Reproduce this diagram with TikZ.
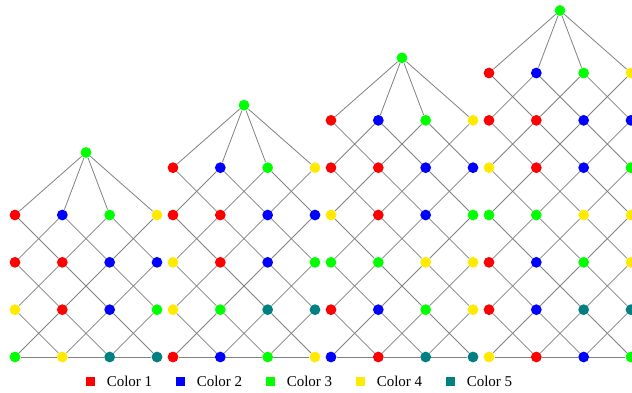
\documentclass[tikz,border=0pt]{standalone}
\usepackage{fontspec}
\setmainfont{Liberation Serif}
\usetikzlibrary{positioning,backgrounds}

\definecolor{col1}{RGB}{255,0,0}
\definecolor{col2}{RGB}{0,0,255}
\definecolor{col3}{RGB}{0,255,0}
\definecolor{col4}{RGB}{255,234,0}
\definecolor{col5}{RGB}{0,128,128}

\tikzset{
  vert/.style={circle,inner sep=0pt,minimum size=5.4pt},
  link/.style={draw=black!50,line width=0.4pt},
  key/.style={rectangle,inner sep=0pt,minimum size=4.5pt},
  keytext/.style={inner sep=0pt,font=\fontsize{7.5}{9}\selectfont}
}

\begin{document}
\begin{tikzpicture}[x=0.5pt,y=0.5pt]
  \useasboundingbox (0,0) rectangle (632,392);
  % top vertices
  \foreach \g/\n in {1/4,2/5,3/6,4/7}
    \node[vert,fill=col3] (g\g-t) at ({86+(\g-1)*158},{35+(\n-1)*47.33+62.5}) {};
  % graph/rows/row/colours of the four columns
  \foreach \g/\n/\k/\ca/\cb/\cc/\cd in {
    1/4/1/1/2/3/4, 1/4/2/1/1/2/2, 1/4/3/4/1/2/3, 1/4/4/3/4/5/5,
    2/5/1/1/2/3/4, 2/5/2/1/1/2/2, 2/5/3/4/1/2/3, 2/5/4/4/3/5/5, 2/5/5/1/2/3/4,
    3/6/1/1/2/3/4, 3/6/2/1/1/2/2, 3/6/3/4/1/2/3, 3/6/4/3/3/4/4, 3/6/5/1/2/3/4,
    3/6/6/2/1/5/5,
    4/7/1/1/2/3/4, 4/7/2/1/1/2/2, 4/7/3/4/1/2/3, 4/7/4/3/3/4/4, 4/7/5/1/2/3/4,
    4/7/6/1/2/5/5, 4/7/7/4/1/2/3}
  {
    \foreach \cl [count=\i from 0] in {\ca,\cb,\cc,\cd}
      \node[vert,fill=col\cl] (g\g-\k-\i) at ({15+(\g-1)*158+\i*47.33},{35+(\n-\k)*47.33}) {};
  }
  \begin{scope}[on background layer]
    \foreach \g/\n in {1/4,2/5,3/6,4/7} {
      \foreach \i in {0,...,3}
        \draw[link] (g\g-t) -- (g\g-1-\i);
      \pgfmathtruncatemacro{\m}{\n-1}
      \foreach \k in {1,...,\m} {
        \pgfmathtruncatemacro{\kk}{\k+1}
        \foreach \i in {0,1,2} {
          \pgfmathtruncatemacro{\nx}{\i+1}
          \draw[link] (g\g-\k-\i) -- (g\g-\kk-\nx);
          \draw[link] (g\g-\k-\nx) -- (g\g-\kk-\i);
        }
      }
      \draw[link] (g\g-\n-0) -- (g\g-\n-1) -- (g\g-\n-2) -- (g\g-\n-3);
    }
  \end{scope}
  % legend
  \foreach \i in {1,...,5} {
    \node[key,fill=col\i] (key\i) at ({90.5+(\i-1)*90},10.5) {};
    \node[keytext,right=5.5pt of key\i] (lab\i) {Color \i};
  }
\end{tikzpicture}
\end{document}
